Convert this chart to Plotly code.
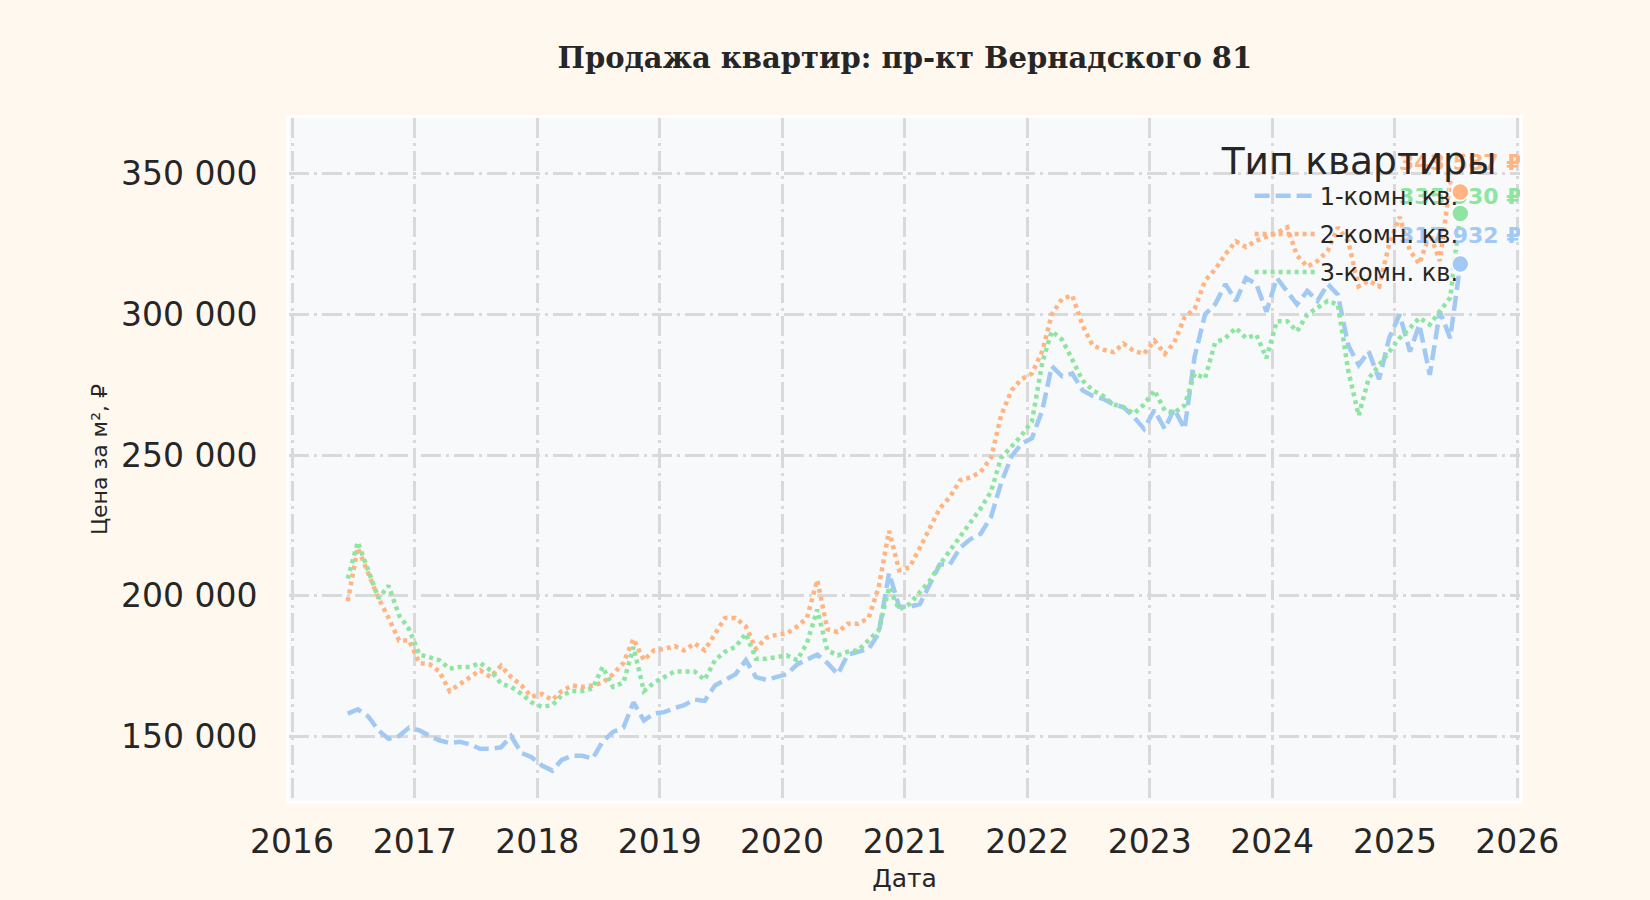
import pandas as pd
import plotly.graph_objects as go

# ---------------- data (thousand ₽ per m², monthly) ----------------
dates = pd.date_range("2016-06-01", "2025-07-01", freq="MS") + pd.Timedelta(days=14)

series_names = ["1-комн. кв.", "2-комн. кв.", "3-комн. кв."]

room1 = [
    158, 159.5, 157, 152, 149, 150, 153,                                   # 2016
    152, 150, 148.5, 147.5, 148, 147, 145.5, 145.5, 146, 150, 144, 142.5,  # 2017
    139.5, 137.7, 141.5, 143, 143, 142, 148, 151.5, 153, 162, 155.5, 158,  # 2018
    158.5, 160, 161, 163, 162.5, 168, 170, 172, 177, 171, 170, 171,        # 2019
    172, 175.5, 177, 179, 176, 172, 179, 180, 181, 186.5, 208, 196,        # 2020
    196, 197, 204, 211, 211, 217, 220, 222, 228, 240, 249.5, 254,          # 2021
    256, 266, 281.6, 278, 279, 273, 271, 270, 268, 267, 263.5, 259.3,      # 2022
    266, 259.3, 266.5, 259.3, 285, 300, 303.6, 310.8, 304.8, 313, 310.8, 301,  # 2023
    313, 308.4, 303.6, 308.4, 304.8, 310.8, 307, 289, 282, 286.8, 277, 291.6,  # 2024
    300, 286.8, 296.4, 278.5, 301, 291.6, 317.932,                         # 2025
]
room2 = [
    198, 217, 208, 199, 192, 184, 184,
    176, 175.5, 173, 166, 168.7, 171, 173.4, 171, 175, 171, 168, 164,
    165, 162.8, 166, 168, 167.5, 168, 169, 172, 176, 184.6, 177, 180.5,
    181, 182, 180.5, 183, 180.5, 186, 192, 192, 189, 181, 185, 186,
    186.5, 189, 192, 205.5, 188, 187, 190, 190, 192, 203, 223, 209,
    210, 217, 224, 231, 235, 241, 242, 244, 249, 264, 273, 277,
    279, 287, 300, 305.6, 306.8, 296, 289, 287.5, 286.6, 289.6, 287, 286,
    290.7, 286, 290, 299, 302, 312, 316, 321.5, 326, 324, 326.3, 327.5,
    329, 331, 321, 317, 319, 322.7, 331, 326, 310, 312, 310, 325,
    334.7, 322.7, 318, 328.7, 319, 347, 343.587,
]
room3 = [
    206, 219, 209, 199, 203.5, 193, 188,
    179, 178, 177, 174, 174.6, 174.6, 176, 173.4, 168.7, 167.5, 165, 162,
    160.4, 161, 164.5, 166, 166, 167, 174.6, 167.5, 169, 181.7, 166, 169,
    171, 173, 173, 173, 170, 177, 180, 181.7, 186.5, 177.5, 177.5, 178,
    178.7, 177, 183, 195, 180.5, 178.7, 180, 180.5, 184, 187.6, 203, 195,
    197, 201, 205, 211, 216, 221, 226, 231, 237, 249, 253, 257,
    262, 283, 294, 291, 284, 276.5, 273, 271, 268, 267, 264.7, 268,
    273, 265.8, 265, 267.7, 279, 277.3, 290, 291.6, 295.2, 291.6, 292.8, 284.5,
    297.6, 297.6, 294, 300, 302.4, 304.8, 303.6, 280, 264, 277.3, 282, 286.8,
    291.6, 295.2, 298.8, 296.4, 301, 306, 335.93,
]
values = [room1, room2, room3]

colors = ["#a1c9f4", "#ffb482", "#8de5a1"]
dashes = ["15px,6px", "4px,4px", "4px,4px"]

PAPER = "#fff8ef"
PLOT_BG = "#f8f9fa"
GRID = "#d9d9d9"
TEXT = "#262626"

fig = go.Figure()

for name, vals, col, dash in zip(series_names, values, colors, dashes):
    fig.add_trace(go.Scatter(
        x=dates, y=[v * 1000 for v in vals], name=name, mode="lines",
        line=dict(color=col, width=4.5, dash=dash),
        legendgroup=name,
    ))

last_x = [dates[-1]] * 3
last_y = [vals[-1] * 1000 for vals in values]
labels = [f"{round(v):,}".replace(",", " ") + " ₽" for v in last_y]

# end labels (under the end dots); invisible spacer markers set the label offsets
fig.add_trace(go.Scatter(
    x=last_x, y=last_y, mode="markers+text", text=labels,
    textposition="top center",
    textfont=dict(family="DejaVu Sans", size=22, color=colors, weight="bold"),
    marker=dict(size=[24, 24, 4], color="rgba(0,0,0,0)"),
    showlegend=False, hoverinfo="skip",
))
# end dots
fig.add_trace(go.Scatter(
    x=last_x, y=last_y, mode="markers",
    marker=dict(size=17, color=colors, line=dict(color="white", width=1.5)),
    showlegend=False, hoverinfo="skip",
))

grid_style = dict(showgrid=True, gridcolor=GRID, gridwidth=2.5, griddash="20px,5px,3px,5px",
                  showline=True, linecolor="white", linewidth=3, mirror=True,
                  zeroline=False, ticks="", tickfont=dict(family="DejaVu Sans", size=33, color=TEXT))

fig.update_xaxes(
    **grid_style,
    range=["2015-12-23", "2026-01-09"],
    tick0="2016-01-01", dtick="M12", tickformat="%Y",
    ticklabelstandoff=9,
    title=dict(text="Дата", font=dict(family="DejaVu Sans", size=25, color=TEXT), standoff=10),
)
fig.update_yaxes(
    **grid_style,
    range=[126900, 369900],
    tick0=150000, dtick=50000, tickformat=",d",
    ticklabelstandoff=22,
    title=dict(text="Цена за м², ₽", font=dict(family="DejaVu Sans", size=22, color=TEXT), standoff=8),
)

fig.update_layout(
    width=1650, height=900,
    paper_bgcolor=PAPER, plot_bgcolor=PLOT_BG,
    separators=". ",
    margin=dict(l=289, r=130, t=118, b=99, autoexpand=False),
    title=dict(text="<b>Продажа квартир: пр-кт Вернадского 81</b>",
               font=dict(family="DejaVu Serif", size=29, color=TEXT),
               x=0.5484, xanchor="center", y=1 - 58 / 900, yanchor="middle"),
    legend=dict(
        title=dict(text="Тип квартиры", font=dict(family="DejaVu Sans", size=37.5, color=TEXT)),
        font=dict(family="DejaVu Sans", size=24, color=TEXT),
        x=0.756, xanchor="left", y=0.99, yanchor="top",
        bgcolor="rgba(0,0,0,0)", borderwidth=0,
        itemwidth=60, indentation=30, tracegroupgap=4,
    ),
    showlegend=True,
)

fig.write_html("out.html", config={"displayModeBar": False},
               post_script="document.body.style.margin='0';document.body.style.overflow='hidden';")
